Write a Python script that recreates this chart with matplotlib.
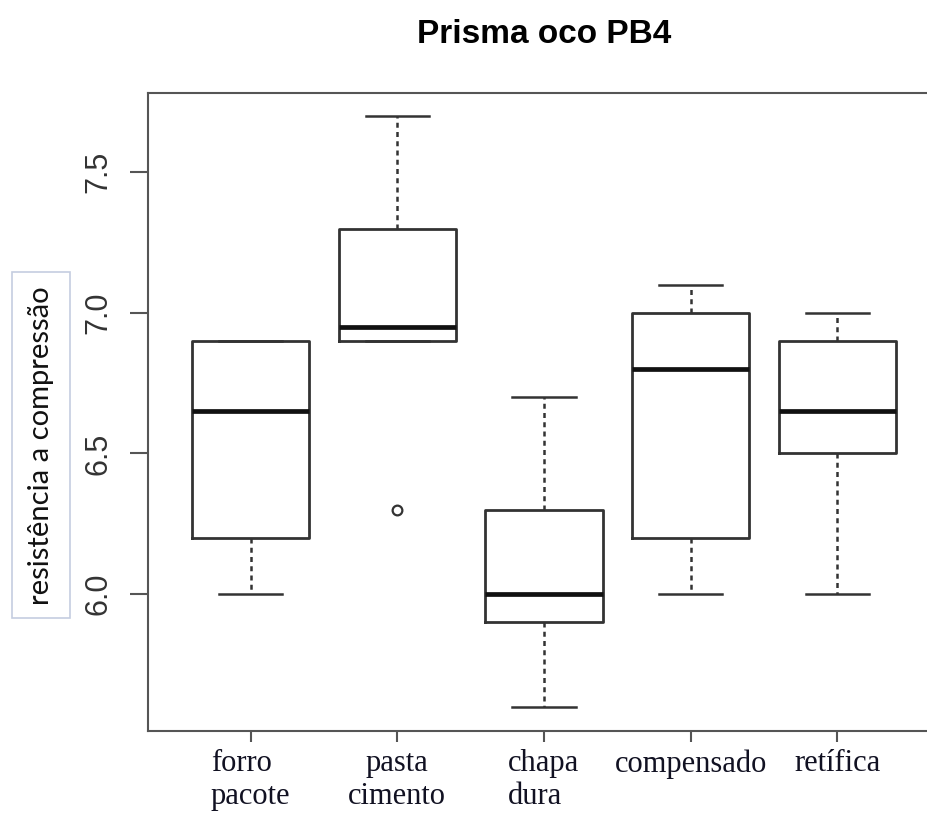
import numpy as np
import matplotlib
matplotlib.use("Agg")
import matplotlib.pyplot as plt
from matplotlib.patches import Rectangle

# box statistics
categorias = ["forro\npacote", "pasta\ncimento", "chapa\ndura", "compensado", "retífica"]
alinhamento = ["left", "center", "left", "center", "center"]
minimo = [6.0, 6.9, 5.6, 6.0, 6.0]
q1 = [6.2, 6.9, 5.9, 6.2, 6.5]
mediana = [6.65, 6.95, 6.0, 6.8, 6.65]
q3 = [6.9, 7.3, 6.3, 7.0, 6.9]
maximo = [6.9, 7.7, 6.7, 7.1, 7.0]
outliers = [[], [6.3], [], [], []]
yticks = [6.0, 6.5, 7.0, 7.5]

stats = []
for i in range(len(categorias)):
    stats.append(dict(whislo=minimo[i], q1=q1[i], med=mediana[i], q3=q3[i],
                      whishi=maximo[i], fliers=outliers[i]))

W, H = 928, 814
fig = plt.figure(figsize=(W / 100, H / 100), dpi=100)
ax = fig.add_axes([148 / W, (H - 731) / H, (940 - 148) / W, (731 - 93) / H])

cor = "#333333"
pos = np.arange(1, len(categorias) + 1)
ax.bxp(stats, positions=pos, widths=0.8, showfliers=True,
       boxprops=dict(color=cor, linewidth=2.0),
       whiskerprops=dict(color=cor, linewidth=1.8, linestyle=(0, (2.0, 1.7))),
       capprops=dict(color=cor, linewidth=1.8),
       medianprops=dict(color="#111111", linewidth=3.4),
       flierprops=dict(marker="o", markersize=7, markerfacecolor="none",
                       markeredgecolor=cor, markeredgewidth=1.6),
       capwidths=0.43)

ax.set_xlim(0.3, 5.7)
ax.set_ylim(5.513, 7.782)

for s in ax.spines.values():
    s.set_color("#555555")
    s.set_linewidth(1.5)

ax.set_yticks(yticks)
ax.set_yticklabels([f"{v:.1f}" for v in yticks], rotation=90, va="center",
                   fontsize=22, family="Liberation Sans", color="#333333")
ax.tick_params(axis="y", length=13, width=1.5, color="#555555", pad=12)

ax.set_xticks(pos)
ax.set_xticklabels(categorias, fontsize=22, family="Liberation Serif",
                   color="#111122", linespacing=1.2)
for lbl, ma in zip(ax.get_xticklabels(), alinhamento):
    lbl.set_multialignment(ma)
ax.tick_params(axis="x", length=8, width=1.5, color="#555555", pad=5)

ax.set_title("Prisma oco PB4", fontsize=24, fontweight="bold",
             family="Liberation Sans", pad=36)

# boxed y label
fig.patches.append(Rectangle((12 / W, (H - 618) / H), 58 / W, 346 / H,
                             transform=fig.transFigure, facecolor="white",
                             edgecolor="#c5cde0", linewidth=1.2))
fig.text(41 / W, (H - 446) / H, "resistência a compressão", rotation=90,
         ha="center", va="center", fontsize=21, family="Lato", color="#111111")

fig.savefig("out.png", dpi=100)
